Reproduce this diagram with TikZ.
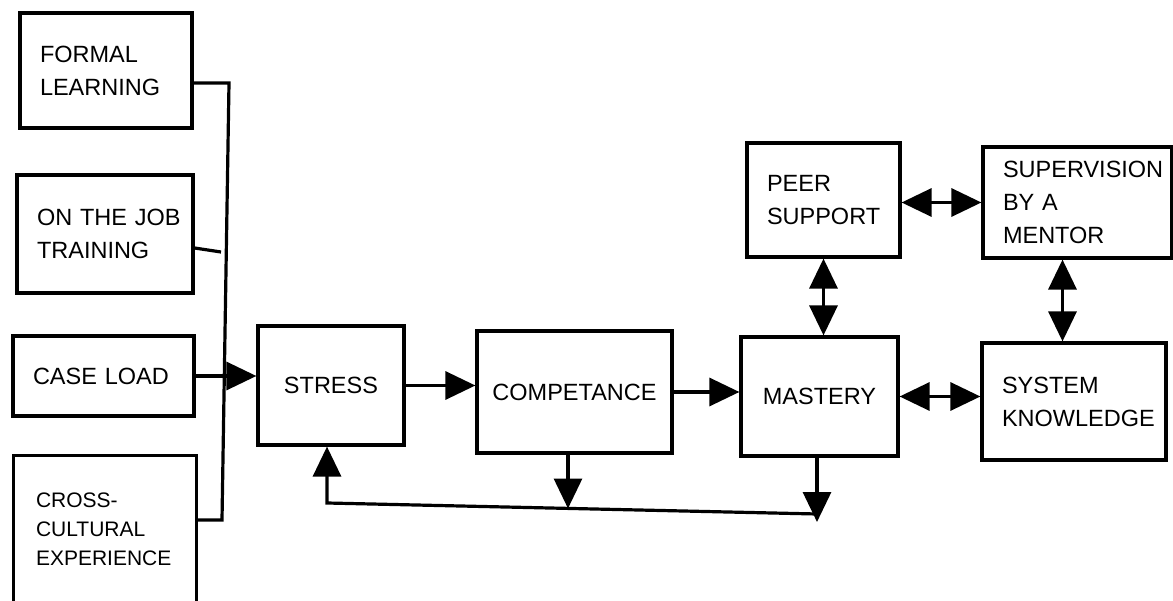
\documentclass[tikz,border=0pt]{standalone}
\usepackage{fontspec}
\setmainfont{Liberation Sans}
\usetikzlibrary{arrows.meta}
\begin{document}
\begin{tikzpicture}[x=1pt,y=-1pt,
  conn/.style={line width=3.2pt},
  arr/.style={conn,-{Triangle[length=30pt,width=28pt]}},
  darr/.style={conn,{Triangle[length=30pt,width=28pt]}-{Triangle[length=30pt,width=28pt]}},
  lbox/.style={draw,line width=3.2pt,inner xsep=20pt,inner ysep=0pt,align=left,
    font=\fontsize{23.5}{33}\selectfont},
  cbox/.style={draw,line width=3.2pt,inner sep=0pt,align=center,
    font=\fontsize{23.5}{33}\selectfont}]
\fill[white] (0,0) rectangle (1173,601);
\useasboundingbox (0,0) rectangle (1173,601);

% left input boxes
\node[lbox,minimum width=172pt,minimum height=115pt,text width=132pt] (formal) at (106,70.5) {FORMAL\\LEARNING};
\node[lbox,minimum width=174pt,minimum height=118pt,text width=136pt] (job) at (105,234) {ON~THE~JOB\\TRAINING};
\node[lbox,minimum width=177pt,minimum height=80pt,text width=141pt] (caseload) at (103.5,376) {CASE~LOAD};
\node[lbox,draw=none,minimum width=180pt,minimum height=144pt,text width=138pt,
  font=\fontsize{21}{29}\selectfont] (cross) at (105,529) {CROSS-\\CULTURAL\\EXPERIENCE};
\draw[conn] (cross.south west) -- (cross.north west) -- (cross.north east) -- (cross.south east);

% main chain
\node[cbox,minimum width=146pt,minimum height=119pt] (stress) at (331,385.5) {STRESS};
\node[cbox,minimum width=195pt,minimum height=122pt] (comp) at (574.5,392) {COMPETANCE};
\node[cbox,minimum width=157pt,minimum height=119pt] (mastery) at (819.5,396.5) {MASTERY};

% right boxes
\node[lbox,minimum width=153pt,minimum height=114pt,text width=113pt] (peer) at (823.5,200) {PEER\\SUPPORT};
\node[lbox,minimum width=189pt,minimum height=111pt,text width=149pt] (sup) at (1077.5,202.5) {SUPERVISION\\BY~A\\MENTOR};
\node[lbox,minimum width=184pt,minimum height=117pt,text width=144pt] (system) at (1074,401.5) {SYSTEM\\KNOWLEDGE};

% input bus
\coordinate (btop) at (229,83);
\coordinate (bbot) at (222,520);
\coordinate (jobend) at (221,252);
\draw[conn] (formal.east |- btop) -- (btop) -- (bbot) -- (cross.east |- bbot);
\draw[conn] ([yshift=-14pt]job.east) -- (jobend);
\draw[arr] (caseload.east) -- (caseload.east -| stress.west);

% chain arrows
\draw[arr] (stress.east) -- (stress.east -| comp.west);
\draw[arr] (comp.east) -- (comp.east -| mastery.west);

% feedback loop
\coordinate (fbl) at (327,503);
\coordinate (fbr) at (817,514);
\coordinate (fc) at (568,508.5);
\coordinate (fm) at (817,522);
\draw[arr] (fbr) -- (fbl) -- (fbl |- stress.south);
\draw[arr] (comp.south -| fc) -- (fc);
\draw[arr] (mastery.south -| fm) -- (fm);

% two-way arrows
\draw[darr] (peer.east |- sup.west) -- (sup.west);
\draw[darr] (peer.south) -- (peer.south |- mastery.north);
\draw[darr] ([xshift=-15pt]sup.south) -- ([xshift=-15pt]sup.south |- system.north);
\draw[darr] (mastery.east) -- (mastery.east -| system.west);
\end{tikzpicture}
\end{document}
